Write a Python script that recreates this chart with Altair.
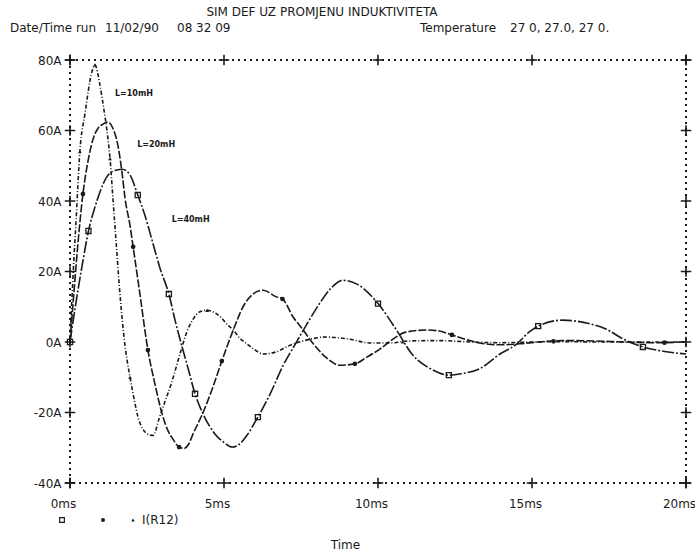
import altair as alt
import pandas as pd

# ---------------- data ----------------
series_names = ["L=10mH", "L=20mH", "L=40mH"]

t_10 = [0, 0.1, 0.2, 0.32, 0.49, 0.71, 0.81, 0.97, 1.1, 1.2, 1.3, 1.4, 1.5, 1.6, 1.7,
        1.8, 1.95, 2.1, 2.2, 2.35, 2.5, 2.7, 2.9, 3.1, 3.3, 3.57, 3.8, 4.0, 4.2, 4.45,
        4.7, 4.9, 5.1, 5.3, 5.5, 5.75, 6.0, 6.27, 6.7, 7.1, 7.7, 8.3, 9.0, 9.8, 10.4,
        11.0, 12.0, 13.0, 14.0, 15.0, 16.0, 17.0, 18.0, 19.0, 20.0]
i_10 = [0, 19, 35, 54, 65, 76.6, 78.6, 73, 66, 60, 52, 40, 28, 16, 6,
        -2, -10, -17, -21, -24.5, -26, -26.5, -21.5, -16.5, -11.5, -3.4, 3, 6.5, 8.5, 9,
        8.3, 7, 5, 3.4, 1.2, -0.6, -2.2, -3.4, -2.8, -1.1, 0.6, 1.4, 0.9, -0.3, -0.3,
        0.3, 0.4, 0, -0.2, 0, 0.1, 0, 0, 0, 0]

t_20 = [0, 0.1, 0.2, 0.3, 0.42, 0.6, 0.75, 0.9, 1.07, 1.23, 1.4, 1.55, 1.69, 1.79, 1.95,
        2.05, 2.27, 2.53, 2.76, 2.99, 3.2, 3.34, 3.54, 3.7, 3.85, 4.0, 4.32, 4.64, 4.93,
        5.3, 5.62, 5.94, 6.27, 6.7, 6.9, 7.25, 7.5, 7.9, 8.3, 8.77, 9.25, 9.64, 10.06,
        10.5, 10.9, 11.6, 12.0, 12.4, 12.9, 13.3, 14.0, 14.6, 15.2, 16.0, 17.0, 18.0,
        19.0, 20.0]
i_20 = [0, 11, 22, 32, 42, 52, 57.6, 60.5, 61.8, 62.4, 60.5, 56, 48, 40.6, 33,
        27, 13.6, -2.3, -12, -20.4, -25.5, -27.5, -29.8, -30.2, -29, -26, -20, -12.8, -5.4,
        3.4, 10, 13.6, 14.7, 12.8, 12.2, 7, 4.2, -0.5, -4.3, -6.6, -6.2, -4.3, -2,
        0.9, 2.8, 3.4, 3.1, 2, 0.6, -0.3, -0.8, -0.5, 0, 0.4, 0.3, 0,
        -0.2, 0]

t_40 = [0, 0.2, 0.4, 0.6, 0.8, 0.97, 1.24, 1.52, 1.7, 1.95, 2.2, 2.43, 2.66, 2.92, 3.21,
        3.41, 3.64, 3.85, 4.06, 4.32, 4.7, 5.0, 5.26, 5.5, 5.75, 6.1, 6.5, 6.9, 7.3, 7.7,
        8.1, 8.5, 8.85, 9.3, 10.0, 10.6, 11.1, 11.8, 12.3, 12.7, 13.3, 13.96, 14.5, 14.9,
        15.2, 16.0, 16.9, 17.4, 17.95, 18.6, 19.25, 20.0]
i_40 = [0, 11.5, 22, 31.5, 38, 42.5, 47.4, 48.8, 49, 47.4, 41.7, 36, 29, 21, 13.6,
        6.2, -1.4, -8, -14.7, -20.4, -26, -28.5, -29.8, -29, -26.4, -21.3, -14.7, -7, -0.8, 5.2,
        10.9, 15.5, 17.5, 16.5, 10.9, 3.4, -3.4, -8, -9.4, -9, -7.6, -3.4, -0.6, 2.8,
        4.5, 6.2, 5.1, 3.7, 0.9, -1.4, -2.6, -3.4]

# markers drawn on the traces
m10_t = [0.32, 0.81, 1.3, 1.95, 4.45, 10.8]
m10_i = [54, 78.6, 52, -10, 9, 0]
m20_t = [0.42, 2.05, 2.53, 3.54, 4.93, 6.9, 9.25, 12.4, 15.7, 19.3]
m20_i = [42, 27, -2.3, -29.8, -5.4, 12.2, -6.2, 2, 0.2, -0.2]
m40_t = [0, 0.6, 2.2, 3.21, 4.06, 6.1, 10.0, 12.3, 15.2, 18.6]
m40_i = [0, 31.5, 41.7, 13.6, -14.7, -21.3, 10.9, -9.4, 4.5, -1.4]

# in-plot trace labels
label_t = [1.46, 2.18, 3.3]
label_i = [70.4, 55.9, 34.6]

y_ticks = [-40, -20, 0, 20, 40, 60, 80]
x_ticks = [0, 5, 10, 15, 20]

title_text = "SIM DEF  UZ PROMJENU INDUKTIVITETA"
date_label = "Date/Time run"
date_value = "11/02/90"
time_value = "08 32 09"
temp_label = "Temperature"
temp_value = "27 0, 27.0, 27 0."
trace_name = "I(R12)"

# ---------------- tables ----------------
lines_df = pd.concat([
    pd.DataFrame({"t": t_10, "i": i_10, "series": series_names[0]}),
    pd.DataFrame({"t": t_20, "i": i_20, "series": series_names[1]}),
    pd.DataFrame({"t": t_40, "i": i_40, "series": series_names[2]}),
], ignore_index=True)

m10_df = pd.DataFrame({"t": m10_t, "i": m10_i})
m20_df = pd.DataFrame({"t": m20_t, "i": m20_i})
m40_df = pd.DataFrame({"t": m40_t, "i": m40_i})
labels_df = pd.DataFrame({"t": label_t, "i": label_i, "text": series_names})

cross_rows = []
for v in y_ticks:
    cross_rows.append({"t": x_ticks[0], "i": v})
    cross_rows.append({"t": x_ticks[-1], "i": v})
for v in x_ticks:
    cross_rows.append({"t": v, "i": y_ticks[0]})
    cross_rows.append({"t": v, "i": y_ticks[-1]})
cross_df = pd.DataFrame(cross_rows)

FONT = "DejaVu Sans"
INK = "#1a1a1a"

xs = alt.Scale(domain=[0, 20], nice=False, zero=False)
ys = alt.Scale(domain=[-40, 80], nice=False, zero=False)

X = alt.X("t:Q", scale=xs, title="Time",
          axis=alt.Axis(values=x_ticks, labelExpr="datum.value + 'ms'",
                        domain=False, ticks=False, grid=False, labelPadding=15,
                        labelFlush=False, labelOffset=-7,
                        labelFont=FONT, labelFontSize=12, labelColor=INK,
                        titleFont=FONT, titleFontSize=12, titleFontWeight="normal",
                        titleColor=INK, titleX=275, titleY=61, titleAlign="center",
                        titleBaseline="middle"))
Y = alt.Y("i:Q", scale=ys, title=None,
          axis=alt.Axis(values=y_ticks, labelExpr="datum.value + 'A'",
                        domain=False, ticks=False, grid=False, labelPadding=9,
                        labelFont=FONT, labelFontSize=12, labelColor=INK))

lines = alt.Chart(lines_df).mark_line(
    interpolate="monotone", strokeWidth=1.6, color=INK
).encode(
    x=X, y=Y,
    strokeDash=alt.StrokeDash(
        "series:N",
        scale=alt.Scale(domain=series_names,
                        range=[[4, 2, 1, 2], [8, 2], [12, 2, 2, 2]]),
        legend=None),
    detail="series:N",
)

mk10 = alt.Chart(m10_df).mark_point(shape="triangle-up", size=14, filled=True,
                                     color=INK, opacity=1).encode(x="t:Q", y="i:Q")
mk20 = alt.Chart(m20_df).mark_point(shape="circle", size=22, filled=True,
                                     color=INK, opacity=1).encode(x="t:Q", y="i:Q")
mk40 = alt.Chart(m40_df).mark_point(shape="square", size=26, filled=False,
                                     color=INK, strokeWidth=1.3, opacity=1).encode(x="t:Q", y="i:Q")

crosses = alt.Chart(cross_df).mark_point(
    shape="M-1,0H1M0,-1V1", size=110, filled=False, color=INK,
    strokeWidth=1.6, opacity=1
).encode(x="t:Q", y="i:Q")

trace_labels = alt.Chart(labels_df).mark_text(
    align="left", baseline="middle", font=FONT, fontSize=8, fontWeight="bold", color=INK
).encode(x="t:Q", y="i:Q", text="text:N")

one = alt.Data(values=[{}])


def txt(s, x, y, align="left", size=12):
    return alt.Chart(one).mark_text(
        text=s, align=align, baseline="middle", font=FONT, fontSize=size, color=INK
    ).encode(x=alt.value(x), y=alt.value(y))


header = [
    txt(title_text, 252, -48, align="center"),
    txt(date_label, -60, -32),
    txt(date_value, 35, -32),
    txt(time_value, 107, -32),
    txt(temp_label, 350, -32),
    txt(temp_value, 440, -32),
    txt(trace_name, 72, 460),
]

leg_sq = alt.Chart(one).mark_point(shape="square", size=22, filled=False, color=INK,
                                   strokeWidth=1.2, opacity=1).encode(
    x=alt.value(-8), y=alt.value(460))
leg_dot = alt.Chart(one).mark_point(shape="circle", size=16, filled=True, color=INK,
                                    opacity=1).encode(x=alt.value(33), y=alt.value(460))
leg_tri = alt.Chart(one).mark_point(shape="triangle-up", size=12, filled=True, color=INK,
                                    opacity=1).encode(x=alt.value(63), y=alt.value(460))

chart = alt.layer(
    lines, mk10, mk20, mk40, crosses, trace_labels, *header, leg_sq, leg_dot, leg_tri
).properties(
    width=616, height=423,
    autosize=alt.AutoSizeParams(type="none"),
    padding={"left": 70, "top": 60, "right": 9, "bottom": 74},
    background="white",
).configure_view(
    stroke=INK, strokeWidth=2, strokeDash=[2, 4]
)

chart.save("out.html", embed_options={"renderer": "svg", "actions": False})
